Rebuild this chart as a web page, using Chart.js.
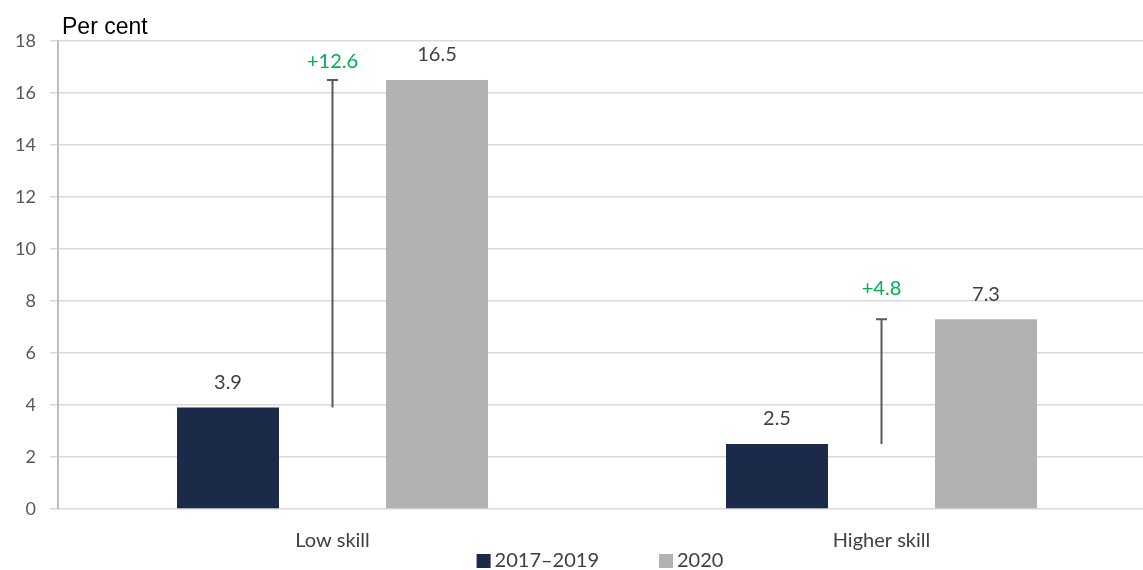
<!DOCTYPE html>
<html>
<head>
<meta charset="utf-8">
<script src="https://cdn.jsdelivr.net/npm/chart.js@4/dist/chart.umd.min.js"></script>
<style>
html, body { margin: 0; padding: 0; background: #fff; overflow: hidden; }
#wrap { width: 1157px; height: 570px; position: relative; }
</style>
</head>
<body>
<div id="wrap"><canvas id="skillChart"></canvas></div>
<script>
// values (per cent)
const categories = ['Low skill', 'Higher skill'];
const seriesNames = ['2017–2019', '2020'];
const before = [3.9, 2.5];
const after = [16.5, 7.3];
const change = [12.6, 4.8];
const yTicks = [0, 2, 4, 6, 8, 10, 12, 14, 16, 18];

const navy = '#1b2a48';
const grey = '#b3b2b0';
const green = '#00b050';
const bodyFont = 'Lato, "Open Sans", sans-serif';

// labels above bars, the change whisker on the middle (invisible) bar, unit label and legend
const barLabels = {
    id: 'barLabels',
    afterDatasetsDraw(chart) {
        const ctx = chart.ctx;
        const area = chart.chartArea;
        ctx.save();
        ctx.textAlign = 'center';
        ctx.textBaseline = 'middle';
        ctx.font = '20px ' + bodyFont;
        [0, 2].forEach(di => {
            chart.getDatasetMeta(di).data.forEach((bar, i) => {
                ctx.fillStyle = '#404040';
                ctx.fillText(chart.data.datasets[di].data[i].toFixed(1), bar.x, bar.y - 25);
            });
        });
        const diffOffset = [18, 31];
        chart.getDatasetMeta(1).data.forEach((bar, i) => {
            ctx.strokeStyle = '#595959';
            ctx.lineWidth = 2;
            ctx.beginPath();
            ctx.moveTo(bar.x, bar.base);
            ctx.lineTo(bar.x, bar.y);
            ctx.moveTo(bar.x - 5.5, bar.y);
            ctx.lineTo(bar.x + 5.5, bar.y);
            ctx.stroke();
            ctx.fillStyle = green;
            ctx.fillText('+' + change[i].toFixed(1), bar.x, bar.y - diffOffset[i]);
        });

        // unit label
        ctx.textAlign = 'left';
        ctx.fillStyle = '#000';
        ctx.font = '23px "Liberation Sans", Arial, sans-serif';
        ctx.fillText('Per cent', area.left + 4, 28);

        // legend
        ctx.font = '20px ' + bodyFont;
        const box = 14, gapText = 4, gapItem = 60;
        const colors = [navy, grey];
        const widths = seriesNames.map(n => ctx.measureText(n).width);
        const total = widths.reduce((a, w) => a + box + gapText + w, 0) + gapItem;
        let x = (area.left + area.right) / 2 - 7 - total / 2;
        const y = 561;
        seriesNames.forEach((name, i) => {
            ctx.fillStyle = colors[i];
            ctx.fillRect(x, y - box / 2, box, box);
            ctx.fillStyle = '#404040';
            ctx.fillText(name, x + box + gapText, y);
            x += box + gapText + widths[i] + gapItem;
        });
        ctx.restore();
    }
};

new Chart(document.getElementById('skillChart'), {
    type: 'bar',
    data: {
        labels: categories,
        datasets: [
            { label: seriesNames[0], data: before, backgroundColor: navy },
            { label: 'change', data: before.map((b, i) => [b, b + change[i]]), backgroundColor: 'rgba(0,0,0,0)' },
            { label: seriesNames[1], data: after, backgroundColor: grey }
        ]
    },
    options: {
        responsive: true,
        maintainAspectRatio: false,
        animation: false,
        events: [],
        categoryPercentage: 0.571,
        barPercentage: 0.976,
        layout: { padding: { top: 41, right: 1, left: 0, bottom: 5 } },
        scales: {
            x: {
                grid: { display: false },
                border: { display: false },
                ticks: { color: '#404040', font: { size: 20, family: bodyFont }, padding: 12 }
            },
            y: {
                min: 0,
                max: 18,
                afterBuildTicks: s => { s.ticks = yTicks.map(v => ({ value: v })); },
                afterFit: s => { s.width = 58; },
                grid: { color: '#d9d9d9', lineWidth: 1.5, tickLength: 8 },
                border: { color: '#bfbfbf', width: 2 },
                ticks: { color: '#595959', font: { size: 18, family: bodyFont }, padding: 14 }
            }
        },
        plugins: {
            tooltip: { enabled: false },
            legend: { display: false }
        }
    },
    plugins: [barLabels]
});
</script>
</body>
</html>
